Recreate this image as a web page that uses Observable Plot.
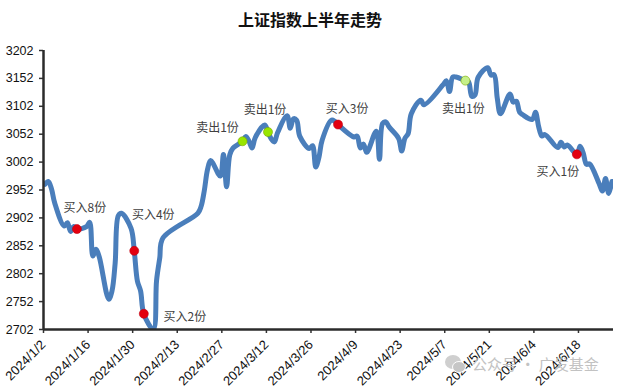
<!DOCTYPE html>
<html><head><meta charset="utf-8">
<script src="https://cdn.jsdelivr.net/npm/d3@7"></script>
<script src="https://cdn.jsdelivr.net/npm/@observablehq/plot@0.6"></script>
<style>
body{margin:0;background:#fff;width:636px;height:391px;overflow:hidden;position:relative;font-family:"Noto Sans CJK SC",sans-serif}
#title{height:40px;line-height:38px;text-align:center;font-size:16px;font-weight:bold;color:#111;padding-right:16px;box-sizing:border-box;width:636px}
#wm{position:absolute;left:444px;top:354px;color:#c2c2c2;font-size:15px;line-height:20px;display:flex;align-items:center;gap:6px}
</style></head><body>
<div id="title">上证指数上半年走势</div>
<div id="chart"></div>
<div id="wm"><svg width="22" height="20"><ellipse cx="9" cy="8" rx="8" ry="7" fill="#cfcfcf"/><ellipse cx="15" cy="13" rx="6.5" ry="5.5" fill="#c6c6c6" stroke="#fff" stroke-width="1"/></svg><span>公众号 · 广发基金</span></div>
<script>
const dates = [
"2024-01-02","2024-01-03","2024-01-04","2024-01-05","2024-01-08","2024-01-09","2024-01-10","2024-01-11","2024-01-12","2024-01-15","2024-01-16","2024-01-17","2024-01-18","2024-01-19","2024-01-22","2024-01-23","2024-01-24","2024-01-25","2024-01-26","2024-01-29","2024-01-30","2024-01-31",
"2024-02-01","2024-02-02","2024-02-05","2024-02-06","2024-02-07","2024-02-08","2024-02-19","2024-02-20","2024-02-21","2024-02-22","2024-02-23","2024-02-26","2024-02-27","2024-02-28","2024-02-29",
"2024-03-01","2024-03-04","2024-03-05","2024-03-06","2024-03-07","2024-03-08","2024-03-11","2024-03-12","2024-03-13","2024-03-14","2024-03-15","2024-03-18","2024-03-19","2024-03-20","2024-03-21","2024-03-22","2024-03-25","2024-03-26","2024-03-27","2024-03-28","2024-03-29",
"2024-04-01","2024-04-02","2024-04-03","2024-04-08","2024-04-09","2024-04-10","2024-04-11","2024-04-12","2024-04-15","2024-04-16","2024-04-17","2024-04-18","2024-04-19","2024-04-22","2024-04-23","2024-04-24","2024-04-25","2024-04-26","2024-04-29","2024-04-30",
"2024-05-06","2024-05-07","2024-05-08","2024-05-09","2024-05-10","2024-05-13","2024-05-14","2024-05-15","2024-05-16","2024-05-17","2024-05-20","2024-05-21","2024-05-22","2024-05-23","2024-05-24","2024-05-27","2024-05-28","2024-05-29","2024-05-30","2024-05-31",
"2024-06-03","2024-06-04","2024-06-05","2024-06-06","2024-06-07","2024-06-11","2024-06-12","2024-06-13","2024-06-14","2024-06-17","2024-06-18","2024-06-19","2024-06-20","2024-06-21","2024-06-24","2024-06-25","2024-06-26","2024-06-27","2024-06-28"
];
const closes = [
2962.28,2967.25,2954.35,2929.18,2887.54,2893.25,2877.70,2886.65,2881.98,2886.29,2893.99,2833.62,2845.78,2832.28,2756.34,2770.74,2820.77,2906.11,2910.22,2883.36,2843.00,2788.55,
2770.74,2730.15,2702.19,2789.49,2829.70,2865.90,2910.54,2922.73,2950.96,2988.36,3004.88,2977.02,3015.48,2957.85,3015.17,
3027.02,3039.31,3047.79,3039.93,3027.40,3046.02,3068.46,3055.94,3043.83,3038.23,3054.64,3084.93,3062.76,3079.69,3077.11,3048.03,3026.31,3031.48,2993.14,3010.66,3041.17,
3077.38,3074.96,3069.30,3047.05,3048.54,3027.33,3034.25,3019.47,3057.38,3007.07,3071.38,3074.22,3065.26,3044.60,3021.98,3044.82,3052.90,3088.64,3113.04,3104.82,
3140.72,3147.74,3128.48,3154.32,3154.55,3148.02,3145.77,3119.90,3122.40,3154.03,3171.15,3157.97,3158.54,3116.39,3088.87,3124.04,3109.57,3111.02,3091.68,3086.81,
3078.49,3091.20,3065.40,3048.79,3051.28,3028.05,3037.47,3028.92,3032.63,3015.89,3030.25,3018.05,2998.14,2998.58,2963.10,2950.00,2972.53,2945.85,2967.40
];
const xTickLabels = ["2024/1/2","2024/1/16","2024/1/30","2024/2/13","2024/2/27","2024/3/12","2024/3/26","2024/4/9","2024/4/23","2024/5/7","2024/5/21","2024/6/4","2024/6/18"];
const yTicks = [2702,2752,2802,2852,2902,2952,3002,3052,3102,3152,3202];
const tradeDates = ["2024-01-12","2024-01-30","2024-02-02","2024-03-04","2024-03-12","2024-04-03","2024-05-13","2024-06-17"];
const tradeLabels = ["买入8份","买入4份","买入2份","卖出1份","卖出1份","买入3份","卖出1份","买入1份"];

// styling (not data)
const labelOffsets = [[8,-21],[19,-36],[41,3],[-25,-13],[-3,-22],[9,-15],[-2,29],[-19,18]];
const dotFills = ["#e3000f","#e3000f","#e3000f","#99e600","#99e600","#e3000f","#c6f08a","#e3000f"];

const parse = d3.utcParse("%Y-%m-%d");
const noon = s => d3.utcHour.offset(parse(s), 12);
const series = dates.map((d, i) => ({date: noon(d), value: closes[i]}));
const tickDates = xTickLabels.map(s => { const [y, m, d] = s.split("/").map(Number); return new Date(Date.UTC(y, m - 1, d)); });
const tickMap = new Map(tickDates.map((d, i) => [+d, xTickLabels[i]]));
const trades = tradeDates.map((d, i) => ({date: noon(d), value: closes[dates.indexOf(d)], label: tradeLabels[i]}));
const x0 = new Date(Date.UTC(2024, 0, 2)), x1 = new Date(Date.UTC(2024, 5, 29));

const tradeMarks = trades.flatMap((t, i) => [
  Plot.dot([t], {x: "date", y: "value", r: 4.5, fill: dotFills[i], stroke: dotFills[i] !== "#e3000f" ? "#7aa800" : "#c00010", strokeWidth: 0.6}),
  Plot.text([t], {x: "date", y: "value", text: "label", dx: labelOffsets[i][0], dy: labelOffsets[i][1], fontSize: 12, fill: "#404040", fontFamily: "Noto Sans CJK SC"})
]);

const chart = Plot.plot({
  width: 636, height: 351,
  marginTop: 10, marginBottom: 62, marginLeft: 43, marginRight: 23,
  style: {fontFamily: "Liberation Sans, Arial, sans-serif", fontSize: "12px", color: "#111", background: "#fff"},
  x: {type: "utc", domain: [x0, x1]},
  y: {domain: [2702, 3202]},
  marks: [
    Plot.axisY({ticks: yTicks, tickFormat: d => String(d), tickSize: 4, tickPadding: 6, fontSize: 12.5, stroke: "#333", strokeWidth: 1.5, label: null}),
    Plot.axisX({ticks: tickDates, tickFormat: d => tickMap.get(+d), tickRotate: -45, tickSize: 4, tickPadding: 9, fontSize: 13, stroke: "#333", strokeWidth: 1.5, label: null}),
    Plot.line(series, {x: "date", y: "value", curve: "catmull-rom", stroke: "#4a7ebb", strokeWidth: 5, strokeLinejoin: "round", strokeLinecap: "round", clip: true}),
    Plot.ruleX([x0], {stroke: "#2b2b2b", strokeWidth: 2.5}),
    Plot.ruleY([2702], {stroke: "#2b2b2b", strokeWidth: 2.5}),
    ...tradeMarks
  ]
});
document.getElementById("chart").appendChild(chart);
</script>
</body></html>
